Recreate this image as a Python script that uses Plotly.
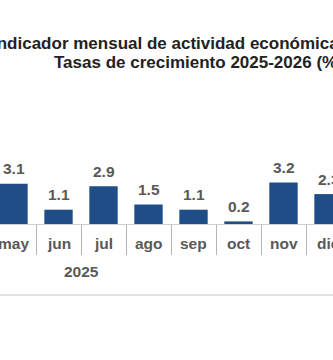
import plotly.graph_objects as go

months = ["may", "jun", "jul", "ago", "sep", "oct", "nov", "dic"]
values = [3.1, 1.1, 2.9, 1.5, 1.1, 0.2, 3.2, 2.3]
labels = ["3.1", "1.1", "2.9", "1.5", "1.1", "0.2", "3.2", "2.3"]
year_label = "2025"
title_1 = "Indicador mensual de actividad económica"
title_2 = "Tasas de crecimiento 2025-2026 (%)"

BAR = "#1f4d88"
GRAY = "#595959"
FONT = "Arial, Liberation Sans, sans-serif"

fig = go.Figure()
fig.add_trace(go.Bar(x=months, y=values, marker_color=BAR, marker_line_width=0,
                     hoverinfo="skip"))

annotations = []
for m, v, t in zip(months, values, labels):
    annotations.append(dict(x=m, y=v, xref="x", yref="y", text=t, showarrow=False,
                            yanchor="middle", yshift=15,
                            font=dict(family=FONT, size=15.5, color=GRAY, weight="bold")))
# month labels under the axis
for m in months:
    annotations.append(dict(x=m, y=0, xref="x", yref="paper", text=m, showarrow=False,
                            yanchor="middle", yshift=-19,
                            font=dict(family=FONT, size=15.5, color=GRAY, weight="bold")))
# year group label centred on its months (ene-dic -> between jun and jul)
annotations.append(dict(x=1.5, y=0, xref="x", yref="paper", text=year_label, showarrow=False,
                        yanchor="middle", yshift=-47,
                        font=dict(family=FONT, size=15.5, color=GRAY, weight="bold")))
annotations.append(dict(x=1, y=1, xref="paper", yref="paper", text=title_1, showarrow=False,
                        xanchor="right", yanchor="middle", yshift=51, xshift=8,
                        font=dict(family=FONT, size=17, color="#222222", weight="bold")))
annotations.append(dict(x=53 / 333, y=1, xref="paper", yref="paper", text=title_2, showarrow=False,
                        xanchor="left", yanchor="middle", yshift=32, xshift=-1,
                        font=dict(family=FONT, size=17, color="#222222", weight="bold")))

fig.update_layout(
    width=333, height=360,
    margin=dict(l=0, r=0, t=94, b=136, pad=0),
    paper_bgcolor="white", plot_bgcolor="white",
    showlegend=False, bargap=0.37,
    annotations=annotations,
    shapes=[dict(type="line", xref="paper", yref="paper", x0=0, x1=1,
                 ysizemode="pixel", yanchor=0, y0=-71, y1=-71,
                 line=dict(color="#e2e2e2", width=2))],
    xaxis=dict(type="category", range=[-0.3, 7.1], showgrid=False, zeroline=False,
               showline=True, linecolor="#cfcfcf", linewidth=1,
               ticks="outside", tickson="boundaries", ticklen=30,
               tickcolor="#b4b4b4", tickwidth=1, showticklabels=False),
    yaxis=dict(range=[0, 10], visible=False, showgrid=False, zeroline=False),
)

fig.write_html("out.html")
